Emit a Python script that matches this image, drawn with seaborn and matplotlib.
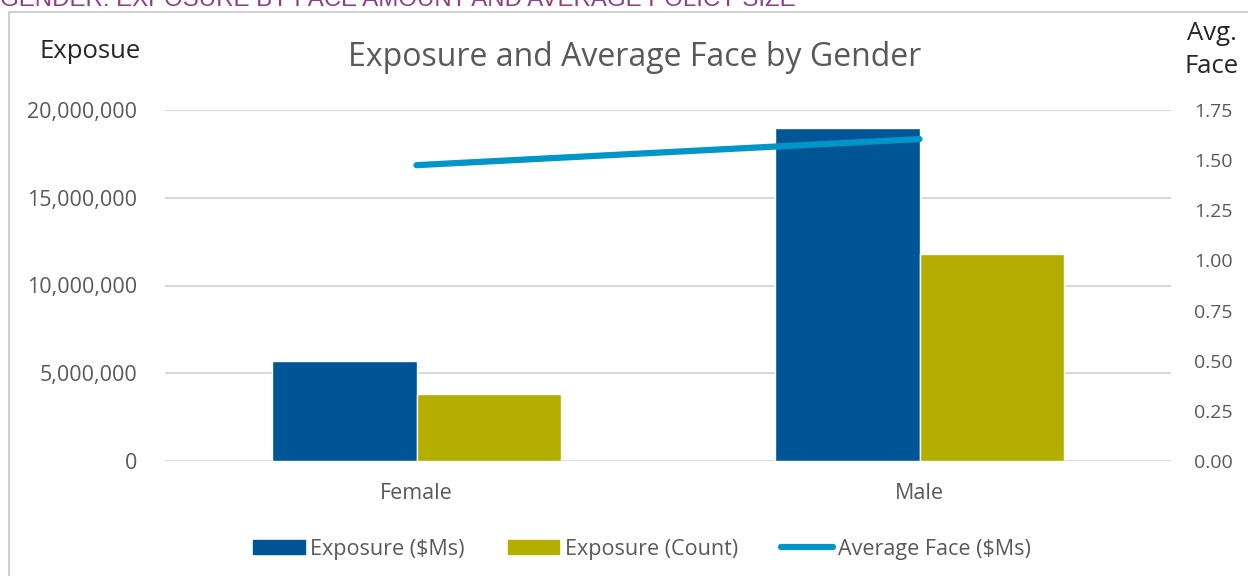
import pandas as pd
import matplotlib.pyplot as plt
import seaborn as sns
from matplotlib.patches import Rectangle

# Chart data
genders = ["Female", "Male"]
exposure_ms = [5700000, 18970000]
exposure_count = [3820000, 11800000]
avg_face = [1.475, 1.605]

series_names = ["Exposure ($Ms)", "Exposure (Count)"]
bar_colors = ["#005596", "#B3AE00"]
line_color = "#0095C8"
text_color = "#595959"
grid_color = "#D9D9D9"

sns.set_theme(style="white")
plt.rcParams['font.family'] = ['Open Sans', 'DejaVu Sans']


def build_frame():
    rows = []
    for g, a, b in zip(genders, exposure_ms, exposure_count):
        rows.append({"Gender": g, "Series": series_names[0], "Value": a})
        rows.append({"Gender": g, "Series": series_names[1], "Value": b})
    return pd.DataFrame(rows)


def make_chart(df):
    fig = plt.figure(figsize=(12.48, 5.76), dpi=100)
    ax = fig.add_axes([165 / 1248, 1 - 461 / 576, (1171 - 165) / 1248, (461 - 110) / 576])

    # outer frame of the excel chart
    fig.patches.append(Rectangle((9 / 1248, -0.1), 1.2, 1.1 - 12 / 576, transform=fig.transFigure,
                                 fill=False, edgecolor="#D0D0D0", linewidth=1.5))
    # clipped section header above the chart (cut off in the source too)
    fig.text(0.0, 1 - 6 / 576, "GENDER: EXPOSURE BY FACE AMOUNT AND AVERAGE POLICY SIZE",
             color="#8E3F8C", fontsize=17.3, family="Liberation Sans", va="baseline", ha="left")

    sns.barplot(data=df, x="Gender", y="Value", hue="Series", palette=bar_colors,
                width=0.573, saturation=1, ax=ax, legend=False, zorder=3)
    ax.set_ylim(0, 20000000)
    ax.set_xlim(-0.5, 1.5)
    ax.set_yticks(range(0, 20000001, 5000000))
    ax.set_yticklabels([f"{v:,}" for v in range(0, 20000001, 5000000)])
    ax.yaxis.grid(True, color=grid_color, linewidth=1.5, zorder=0)
    ax.set_axisbelow(True)
    for s in ax.spines.values():
        s.set_visible(False)
    ax.tick_params(axis="y", length=0, labelsize=15.5, labelcolor=text_color, pad=20)
    ax.tick_params(axis="x", length=0, labelsize=15.5, labelcolor=text_color, pad=16)
    ax.set_xlabel("")
    ax.set_ylabel("")

    ax2 = ax.twinx()
    ax2.set_position(ax.get_position())
    sns.lineplot(x=[0, 1], y=avg_face, color=line_color, linewidth=4.5, ax=ax2,
                 solid_capstyle="round", zorder=5)
    ax2.set_ylim(0, 1.75)
    ax2.set_yticks([0, 0.25, 0.5, 0.75, 1.0, 1.25, 1.5, 1.75])
    ax2.set_yticklabels([f"{v:.2f}" for v in ax2.get_yticks()])
    ax2.tick_params(axis="y", length=0, labelsize=14, labelcolor=text_color, pad=16.5)
    for s in ax2.spines.values():
        s.set_visible(False)
    ax2.set_ylabel("")

    fig.text(635 / 1248, 1 - 57 / 576, "Exposure and Average Face by Gender",
             fontsize=23, color=text_color, ha="center", va="center")
    fig.text(90 / 1248, 1 - 52 / 576, "Exposue", fontsize=18.5, color="#262626",
             ha="center", va="center")
    fig.text(1212 / 1248, 1 - 50 / 576, "Avg.\nFace", fontsize=18.5, color="#262626",
             ha="center", va="center", linespacing=1.45)

    handles = [Rectangle((0, 0), 1, 1, color=bar_colors[0]),
               Rectangle((0, 0), 1, 1, color=bar_colors[1]),
               plt.Line2D([0], [0], color=line_color, linewidth=4.5, solid_capstyle="round")]
    labels = series_names + ["Average Face ($Ms)"]
    leg = fig.legend(handles, labels, loc="center", bbox_to_anchor=(642 / 1248, 1 - 549 / 576),
                     ncol=3, frameon=False, fontsize=15.5, handlelength=2.4, handleheight=0.65,
                     handletextpad=0.25, columnspacing=2.0)
    for t in leg.get_texts():
        t.set_color(text_color)

    fig.savefig("out.png", dpi=100)


if __name__ == "__main__":
    make_chart(build_frame())
